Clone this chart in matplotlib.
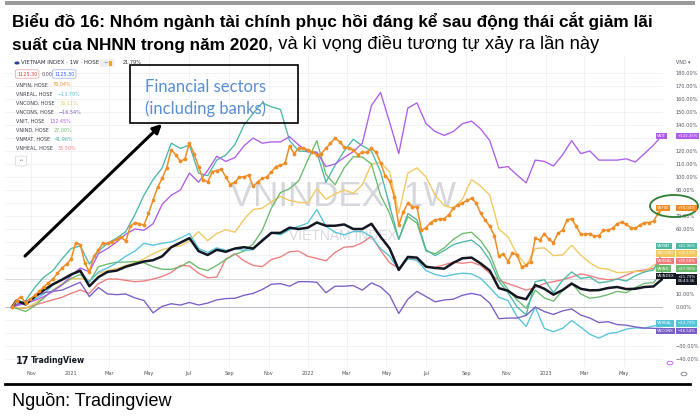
import matplotlib
matplotlib.use("Agg")
import matplotlib.pyplot as plt
import matplotlib.dates as mdates
from matplotlib.patches import Rectangle, Ellipse, FancyArrowPatch, FancyBboxPatch, Circle
from matplotlib.lines import Line2D
from matplotlib.ticker import FuncFormatter
import pandas as pd

plt.rcParams["font.family"] = ["Liberation Sans", "DejaVu Sans"]

W, H = 700, 416


def fx(x):
    return x / W


def fy(y):
    return 1 - y / H


# weekly bars from 02/10/2020, % change vs first bar
weeks = pd.date_range("2020-10-02", periods=144, freq="7D")
# the thin lines are read every second week (plus first and last bar)
sub_weeks = weeks[[0] + list(range(1, 144, 2))]

vnfin = [0, 5, 8, 3, 6, 9, 12, 15.6, 18.5, 21.5,
         26, 30, 33, 37, 49.5, 48, 34, 27, 39, 44,
         49, 49, 50, 52, 54, 50.5, 62, 65, 64, 63,
         72, 82, 92, 99, 107, 121, 117, 112, 114, 126,
         118, 108, 98, 96, 104, 105, 106, 100, 94, 96,
         100, 100, 101.5, 93, 96, 99, 100, 104, 108, 109,
         110.5, 124, 118, 122, 122, 121, 119, 117, 118, 122,
         126, 130, 127, 123, 122, 121, 117, 119, 119, 122,
         119, 111, 101, 97, 85, 63, 73, 80, 77, 77,
         59, 61, 65, 67, 67.5, 68, 71, 76, 78.5, 80,
         82, 83.6, 80, 72, 67, 62, 55, 39, 41, 35,
         41.8, 40, 31, 32, 35, 53, 51.5, 56.5, 52, 49.5,
         56.7, 59, 67, 68, 62, 56, 56, 56.5, 54.5, 55,
         59, 59, 60.5, 64, 65.5, 63.5, 61, 60.5, 63, 65,
         65, 66, 72, 76.04]

vnindex = [0, 5, 2, 8, 13, 17.5, 21, 25, 28, 16,
           23, 27, 28, 31, 33, 35, 36, 39, 46, 49.5,
           53, 43, 40, 44, 42.5, 45, 46, 45, 51, 57,
           57, 61, 60, 61, 65, 62.5, 62.5, 63.5, 60, 60,
           64, 54, 45, 28.5, 38.5, 38, 31, 30, 29.5, 34,
           37.5, 38, 33.5, 28, 14.5, 12.5, 7.7, 6, 16.9, 14,
           9.5, 13, 18, 14, 12.8, 13, 14.6, 15.4, 13.8, 14,
           15.4, 15.8, 21.79]

vnit = [0, 1, 3, 5, 8, 12, 17, 24, 30, 27,
        41, 45, 50, 56, 60, 59, 64, 79, 86, 90,
        103, 96, 105, 116, 112, 115, 124, 130, 126, 127,
        127, 131, 124.6, 119.5, 119, 108, 110, 115, 119.5, 126,
        155, 165, 142, 118, 153, 157, 141, 135, 132, 135,
        141, 143, 137, 128, 107, 108, 101.5, 95.5, 113, 112,
        108.5, 117, 128, 118, 120, 113, 113, 113, 114, 111.5,
        118, 124.6, 132.45]

vnmat = [0, 2, 5, 15, 23, 28, 37, 45, 47, 33,
         43, 49, 53, 58, 71, 86, 98, 107, 126, 122,
         124.6, 103, 101, 113, 117, 125, 140, 149, 157, 154,
         152, 128, 120, 119.5, 119, 96, 109, 120, 129, 124,
         120, 104, 78, 52, 72, 67, 44, 39.5, 43.5, 48,
         50, 51.5, 46, 36, 20, 11, 0, -6, 19.5, 21,
         11, 20.5, 27, 22, 23, 18.5, 19.5, 21.5, 20, 24,
         27, 28.5, 41.96]

vnreal = [0, 1, 3, 6, 10, 17, 21, 25, 27, 19.5,
          27, 30, 34, 39, 43, 49, 47.5, 49, 50, 53,
          56.5, 45, 42, 45.5, 43.5, 45, 43.5, 44, 52, 57,
          55.5, 59.5, 62, 64.5, 75, 62, 57.5, 55.5, 58, 58,
          54, 45, 39, 28.5, 37, 36, 28, 25, 23.5, 25,
          26, 25.5, 22, 15, 7.5, 5, -7.4, -15, 0, -16.5,
          -19, -16.4, -10.5, -15.5, -21, -24, -20.5, -19.5, -17, -16,
          -16.4, -14.5, -13.79]

vncons = [0, 2, 4, 8, 11, 12, 13, 16, 19, 8,
          15, 10, 9.5, 10, 7, 5, -4.5, 0.5, 2.5, 1.5,
          3.5, 1.5, 3, 5.5, 6.5, 6.7, 9, 10.5, 13.5, 17.5,
          18, 16, 19.5, 19.5, 19, 11, 16, 16, 16.5, 13,
          18.5, 15.5, 9, -5, 6, 12, 8, 4, 5.4, 6,
          9, 10.5, 9, 3, -9, -8.5, -8.5, -6.5, 0, -3.5,
          -5.7, -3, -1.5, -6.2, -8.5, -12, -11.3, -13.5, -14, -15.3,
          -16.2, -16.4, -16.54]

vnheal = [0, -1, -1, 1.5, 3.5, 5.5, 7.5, 10.5, 13, 10.5,
          18, 21.5, 21.5, 20.5, 19.5, 20, 21.5, 23.5, 26.5, 32,
          31.5, 26, 22.5, 23, 37, 41, 35.5, 32, 31, 36.5,
          38.5, 42.5, 43, 39, 37.4, 35.5, 42, 46, 46.5, 49.5,
          54.5, 43.5, 34, 29.7, 38, 36, 31, 30.5, 32.5, 34.5,
          33.6, 34.5, 32, 26, 20.5, 18, 15.6, 13, 15, 18,
          19.5, 21, 23, 25.5, 24, 22, 21, 21.5, 24.5, 27.5,
          28.5, 29.7, 35.5]

vncond = [0, -0.5, -1, 3, 7, 13, 18, 21.5, 22, 20.5,
          26, 28, 29.5, 32, 34, 37, 41, 44, 46, 47,
          51, 58, 51, 56.5, 59.5, 57.5, 67.5, 75, 76, 81,
          85, 82, 80.5, 80, 91, 83, 87, 90, 87.5, 94,
          110, 111, 104, 72, 103, 107, 100, 86, 78, 76,
          83, 98, 93, 86, 60, 54, 40.5, 32, 45, 45.5,
          39.5, 40, 47.5, 40, 34, 30, 29, 26.5, 26.8, 27.5,
          27, 32, 36.11]

vnind = [0, -1, -3.5, 1, 7, 13, 17, 22, 25, 19,
         31, 33, 34.5, 34.5, 35, 34, 31, 29, 29, 31,
         35, 30, 28, 32, 36.5, 40.5, 43, 48.5, 59, 76,
         88, 91, 97, 113, 128, 102, 94, 107, 115.6, 115.3,
         110, 86, 72, 52, 69.5, 64.5, 43, 41, 45.5, 52,
         56.5, 57.5, 51, 41, 23, 13.5, 5.4, -1, 13, 7,
         4.5, 12.5, 18.5, 10, 6.7, 7.7, 9.5, 12, 11, 15,
         18.2, 18.7, 27]

colors = {
    "VNINDEX": "#131722",
    "VNFIN": "#F08C24",
    "VNREAL": "#55C3DA",
    "VNCOND": "#F2C75C",
    "VNCONS": "#7A5CC6",
    "VNIT": "#AD5CEB",
    "VNIND": "#6BBA6B",
    "VNMAT": "#4BB7A5",
    "VNHEAL": "#EE7C7C",
}

leg_names = ["VNFIN", "VNREAL", "VNCOND", "VNCONS", "VNIT", "VNIND", "VNMAT", "VNHEAL"]
leg_values = ["76.04%", "−13.79%", "36.11%", "−16.54%", "132.45%", "27.00%", "41.96%", "35.50%"]

box_names = ["VNIT", "VNFIN", "VNMAT", "VNCOND", "VNHEAL", "VNIND", "VNINDEX", "VNREAL", "VNCONS"]
box_values = ["+132.45%", "+76.04%", "+41.96%", "+36.11%", "+35.50%", "+27.00%",
              "+21.79%\n06:43:36", "−13.79%", "−16.54%"]
# label rows on the price scale, stacked the way TradingView does it (pixels)
box_y = [136, 208, 246, 253.5, 261, 268.5, 276, 323.5, 331]

fig = plt.figure(figsize=(7, 4.16), dpi=100)
fig.patch.set_facecolor("white")

# ---- chart area (TradingView screenshot) ----
ax = fig.add_axes([fx(5), fy(367), fx(663) - fx(5), (367 - 55) / H])
t0 = mdates.date2num(weeks[0].to_pydatetime())
px_day = 4.55 / 7
ax.set_xlim(t0 - 7 / px_day, t0 + (663 - 12) / px_day)
ax.set_ylim((307 - 367) / 1.3, (307 - 55) / 1.3)


def pct_label(v, p):
    ypix = 307 - 1.3 * v
    if any(abs(ypix - b) < 5.5 for b in box_y) or (270 < ypix < 286):
        return ""  # hidden behind a price label
    return f"{v:.2f}%".replace("-", "−")


ax.set_yticks(range(-40, 190, 10))
ax.yaxis.tick_right()
ax.yaxis.set_major_formatter(FuncFormatter(pct_label))
ax.xaxis.set_major_locator(mdates.MonthLocator(bymonth=[1, 3, 5, 7, 9, 11]))
ax.xaxis.set_major_formatter(FuncFormatter(
    lambda v, p: mdates.num2date(v).strftime("%Y") if mdates.num2date(v).month == 1
    else mdates.num2date(v).strftime("%b")))
ax.tick_params(axis="both", length=0, labelsize=3.6, labelcolor="#50535e")
ax.tick_params(axis="y", pad=9)
ax.tick_params(axis="x", pad=3)
for lbl in ax.get_xticklabels() + ax.get_yticklabels():
    lbl.set_family("DejaVu Sans")
for s in ax.spines.values():
    s.set_visible(False)
ax.grid(True, color="#eef0f4", lw=0.6)
ax.set_axisbelow(True)

ax.axhline(0, color="#b9bcc4", lw=0.7, zorder=1)
ax.axhline(21.79, color="#cfd2d8", lw=0.6, zorder=1)

# watermark
ax.text(fx(343), fy(196), "VNINDEX, 1W", transform=fig.transFigure, fontsize=25,
        color="#d5d7dc", ha="center", va="center", zorder=1)
ax.text(fx(343), fy(236), "VIETNAM INDEX", transform=fig.transFigure, fontsize=10,
        color="#d8dade", ha="center", va="center", zorder=1)

thin = [("VNHEAL", vnheal), ("VNCOND", vncond), ("VNIND", vnind), ("VNMAT", vnmat),
        ("VNREAL", vnreal), ("VNCONS", vncons), ("VNIT", vnit)]
for name, vals in thin:
    ax.plot(sub_weeks, vals, color=colors[name], lw=0.95, zorder=3)
ax.plot(sub_weeks, vnindex, color=colors["VNINDEX"], lw=1.8, zorder=5)
ax.plot(weeks, vnfin, color=colors["VNFIN"], lw=1.1, marker="o", ms=2.7,
        markeredgewidth=0, zorder=6)

# ---- TradingView header / legend ----
tiny = "DejaVu Sans"
fig.add_artist(Circle((fx(17), fy(63)), 2.6 / W, transform=fig.transFigure,
                      fc="#2f3b8c", ec="none"))
fig.text(fx(21), fy(63), "VIETNAM INDEX · 1W · HOSE", fontsize=4, color="#2a2e39",
         va="center", family=tiny)
fig.add_artist(FancyBboxPatch((fx(101), fy(66)), 12 / W, 6 / H, boxstyle="round,pad=0.002",
                              transform=fig.transFigure, fc="#eceef2", ec="none"))
fig.text(fx(103), fy(63), "−", fontsize=3.8, color="#787b86", va="center", family=tiny)
fig.add_artist(Rectangle((fx(108.5), fy(65.5)), 3 / W, 5 / H, transform=fig.transFigure,
                         fc="#f5a623", ec="none"))
fig.text(fx(123), fy(63), "21.79%", fontsize=3.6, color="#2a2e39", va="center", family=tiny)

fig.text(fx(17), fy(74), "1125.30", fontsize=3.5, color="#e53935", va="center", family=tiny,
         bbox=dict(boxstyle="round,pad=0.35", fc="white", ec="#ef9a9a", lw=0.5))
fig.text(fx(42), fy(74), "0.00", fontsize=3.5, color="#50535e", va="center", family=tiny)
fig.text(fx(54), fy(74), "1125.30", fontsize=3.5, color="#2962ff", va="center", family=tiny,
         bbox=dict(boxstyle="round,pad=0.35", fc="white", ec="#90a8f0", lw=0.5))

for i, (n, v) in enumerate(zip(leg_names, leg_values)):
    yy = 85 + i * 9.1
    t = fig.text(fx(16), fy(yy), f"{n}, HOSE", fontsize=3.5, color="#3a3d45",
                 va="center", family=tiny)
    ax.annotate(v, xy=(1, 0.5), xycoords=t, xytext=(3.5, 0), textcoords="offset points",
                fontsize=3.5, color=colors[n], va="center", family=tiny)

fig.add_artist(FancyBboxPatch((fx(17), fy(165)), 8 / W, 8 / H, boxstyle="round,pad=0.002",
                              transform=fig.transFigure, fc="white", ec="#d1d4dc", lw=0.5))
fig.text(fx(21), fy(161.5), "^", fontsize=4, color="#50535e", ha="center", va="center",
         family=tiny)

# TradingView logo
fig.text(fx(16), fy(360.5), "17", fontsize=7, fontweight="black", color="#131722",
         va="center", family=tiny)
fig.text(fx(31), fy(360.5), "TradingView", fontsize=5.6, fontweight="bold",
         color="#131722", va="center", family=tiny)

# right-hand price scale labels
fig.text(fx(676), fy(62), "VND ▾", fontsize=3.4, color="#50535e", va="center", family=tiny)
for n, v, yy in zip(box_names, box_values, box_y):
    fig.text(fx(657), fy(yy), n, fontsize=2.8, color="white", va="center", family=tiny,
             bbox=dict(boxstyle="square,pad=0.3", fc=colors[n], ec="none"))
    vy = yy + 3.5 if "\n" in v else yy
    fig.text(fx(677.5), fy(vy), v, fontsize=2.8, color="white", va="center", family=tiny,
             linespacing=1.0, bbox=dict(boxstyle="square,pad=0.3", fc=colors[n], ec="none"))
fig.add_artist(Circle((fx(670), fy(363)), 3 / W, transform=fig.transFigure,
                      fc="none", ec="#b45ce8", lw=0.6))
fig.add_artist(Circle((fx(684), fy(374)), 3 / W, transform=fig.transFigure,
                      fc="none", ec="#787b86", lw=0.6))

# ---- annotations added on top of the screenshot ----
fig.add_artist(Rectangle((fx(130), fy(123)), (298 - 130) / W, (123 - 65) / H,
                         transform=fig.transFigure, fill=False, ec="black", lw=1.2))
fig.text(fx(145), fy(92), "Financial sectors", fontsize=12, color="#5b8fd4",
         family=["Lato", "DejaVu Sans"], va="baseline")
fig.text(fx(145), fy(114), "(including banks)", fontsize=12, color="#5b8fd4",
         family=["Lato", "DejaVu Sans"], va="baseline")
fig.add_artist(FancyArrowPatch((fx(23), fy(258)), (fx(164), fy(122)),
                               transform=fig.transFigure, arrowstyle="-|>",
                               mutation_scale=13, lw=2.2, color="black"))
fig.add_artist(Ellipse((fx(674), fy(206)), 48 / W, 22 / H, transform=fig.transFigure,
                       fill=False, ec="#2e7d32", lw=1.3))

# ---- report frame: top bar, title, bottom rule, source ----
fig.add_artist(Rectangle((fx(5), fy(5)), 690 / W, 4 / H, transform=fig.transFigure,
                         fc="#9a9a9a", ec="none"))
fig.text(fx(12), fy(27), "Biểu đồ 16: Nhóm ngành tài chính phục hồi đáng kể sau động thái cắt giảm lãi",
         fontsize=12.4, fontweight="bold", color="black", va="baseline")
t2 = fig.text(fx(12), fy(50), "suất của NHNN trong năm 2020", fontsize=12.4,
              fontweight="bold", color="black", va="baseline")
ax.annotate(", và kì vọng điều tương tự xảy ra lần này", xy=(1, 0), xycoords=t2,
            xytext=(0, 0), textcoords="offset points", fontsize=13.2, color="black",
            va="bottom", family=["Liberation Sans", "DejaVu Sans"])
fig.add_artist(Line2D([fx(5), fx(690)], [fy(384), fy(384)], transform=fig.transFigure,
                      color="black", lw=2))
fig.text(fx(12), fy(406), "Nguồn: Tradingview", fontsize=13, color="black", va="baseline")

fig.savefig("out.png", dpi=100)
